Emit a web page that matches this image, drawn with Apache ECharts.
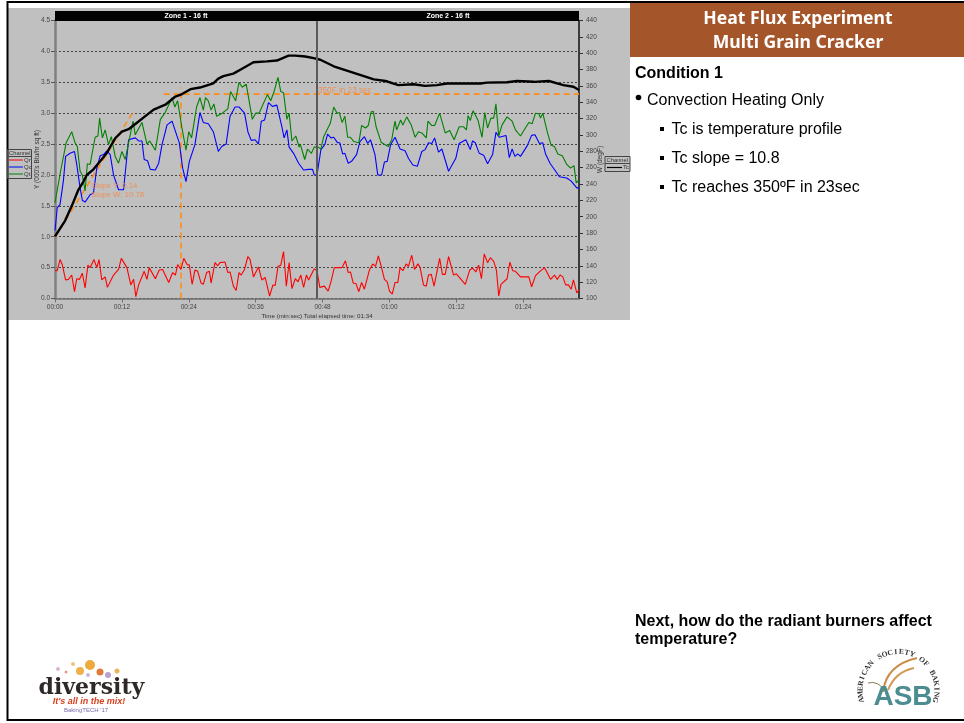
<!DOCTYPE html>
<html>
<head>
<meta charset="utf-8">
<style>
  html, body { margin: 0; padding: 0; background: #fff; }
  #chart { width: 964px; height: 723px; }
</style>
<script src="https://cdn.jsdelivr.net/npm/echarts@6/dist/echarts.min.js"></script>
</head>
<body>
<div id="chart"></div>
<script>
// [seconds, value]
const qrPoints = [[0,.45],[.4,.45],[.9,.63],[1.3,.55],[1.9,.3],[2.4,.31],[3,.38],[3.5,.11],[3.9,.32],[4.4,.31],[4.9,.41],[5.4,.17],[5.9,.54],[6.3,.5],[7,.63],[7.5,.5],[7.9,.63],[8.4,.3],[9,.35],[9.4,.18],[10.5,.38],[11.4,.47],[11.9,.65],[12.9,.5],[13.6,.22],[14.1,.31],[14.5,.03],[15,.22],[16,.44],[16.5,.31],[16.9,.5],[18,.32],[18.7,.46],[19.3,.47],[20.4,.26],[21.1,.42],[21.6,.38],[22,.55],[22.6,.47],[23.1,.65],[23.7,.55],[24.1,.54],[24.6,.23],[25.1,.46],[25.6,.44],[26.2,.25],[26.6,.23],[27.2,.42],[27.7,.44],[28,.25],[28.7,.58],[29.2,.53],[29.6,.58],[30.5,.59],[31,.42],[31.4,.43],[32,.2],[32.5,.13],[33,.42],[33.4,.38],[34,.47],[34.6,.68],[35,.63],[35.6,.35],[36.5,.51],[37.1,.3],[37.7,.34],[38.5,.04],[39.1,.22],[39.5,.21],[40,.52],[40.5,.54],[41,.76],[41.5,.2],[42,.58],[42.5,.16],[43.1,.32],[43.6,.27],[44.1,.38],[44.6,.18],[45.1,.38],[45.5,.3],[46.5,.48],[47,.45],[47.5,.18],[48.3,.2],[49,.12],[49.5,.27],[50.1,.5],[51.5,.5],[52.1,.61],[52.6,.42],[53,.43],[53.5,.25],[54,.24],[54.5,.11],[55,.26],[55.5,.15],[56.4,.46],[57,.56],[57.5,.52],[58,.69],[58.5,.53],[59.1,.31],[59.6,.27],[60,.12],[60.5,.07],[61,.26],[61.5,.26],[61.9,.5],[62.4,.45],[63,.56],[63.4,.52],[64,.7],[64.5,.47],[65.1,.56],[65.5,.5],[66.1,.22],[66.6,.2],[67,.38],[67.5,.39],[68,.2],[69,.65],[69.5,.39],[70,.39],[70.6,.68],[71.5,.38],[72,.4],[73.6,.23],[74.4,.46],[74.9,.49],[75.5,.43],[76,.54],[76.5,.32],[77,.72],[77.6,.58],[78.1,.66],[78.7,.6],[79.2,.45],[79.6,.04],[80,.23],[81.1,.32],[81.6,.59],[82.1,.45],[82.6,.44],[83.5,.35],[85,.35],[85.5,.19],[86.2,.37],[87,.44],[87.8,.5],[88.1,.5],[88.9,.31],[89.2,.31],[89.6,.38],[90.1,.31],[90.6,.38],[91.1,.35],[91.6,.22],[92.1,.22],[92.6,.15],[93,.3],[93.6,.09],[94,.14]];
const qcPoints = [[0,1.1],[.4,1.47],[.9,1.52],[1.5,1.9],[1.9,2.3],[2.7,2.35],[3.5,2.38],[3.9,2.17],[4.5,1.79],[4.9,1.59],[5.4,1.56],[6.3,1.68],[6.9,1.71],[7.5,2.11],[8.1,2.31],[8.7,2.33],[9.3,2.39],[9.9,2.33],[10.5,2],[11.4,1.76],[12.3,1.76],[13.2,2.57],[14.4,2.6],[15,2.55],[15.6,2.55],[16,2.25],[16.6,2.23],[17.1,2.09],[18,2.08],[18.6,2.19],[19.2,2.49],[20.1,2.81],[21,2.87],[21.7,2.68],[22.3,2.52],[22.9,2.11],[23.5,1.89],[24.1,2.22],[25.1,2.49],[26,3.01],[26.6,2.85],[27.5,2.83],[28.4,2.7],[29.3,2.38],[29.9,2.46],[30.7,2.5],[31.4,2.95],[32.3,3.1],[33,3.1],[34,3],[34.6,2.7],[35.2,2.56],[35.9,2.57],[36.5,2.5],[37,2.87],[37.6,2.89],[38.3,3.17],[39,3.11],[39.8,3.13],[40.7,2.78],[41.1,2.6],[41.6,2.73],[42,2.45],[42.8,2.35],[43.7,2.19],[44.6,2.08],[45.5,2.09],[46.2,2.09],[46.5,2],[47,2],[47.7,2.41],[48.4,2.49],[48.9,2.66],[49.5,2.6],[50,2.61],[50.7,2.52],[51.1,2.52],[51.6,2.34],[52,2.35],[52.6,2.19],[53.2,2.22],[54.1,2.33],[54.7,2.54],[55.5,2.62],[56.1,2.51],[56.6,2.57],[57.4,2.33],[57.9,2],[58.6,2],[59.1,2.21],[59.6,2.22],[60.2,2.49],[61,2.61],[61.9,2.42],[62.8,2.39],[63.4,2.27],[64.2,2.16],[65,2.14],[65.8,2.38],[66.4,2.41],[67,2.52],[67.6,2.51],[68.1,2.6],[68.8,2.37],[69.4,2.42],[70.6,2.06],[71.9,2.27],[72.5,2.51],[73.7,2.57],[74.5,2.41],[74.9,2.55],[75.4,2.52],[76.1,2.35],[76.9,2.32],[77.6,2.18],[78.5,2.33],[79.1,2.69],[79.7,2.61],[80.9,2.64],[81.5,2.28],[82,2.42],[82.5,2.3],[83,2.34],[83.5,2.3],[84.7,2.47],[85.5,2.64],[86.1,2.65],[86.9,2.51],[87.5,2.52],[88,2.34],[88.8,2.19],[90.5,1.97],[91.8,1.95],[92.6,1.9],[93.6,1.79],[94,1.79]];
const qtPoints = [[0,1.55],[1,2.06],[2,2.52],[3,2.7],[3.6,2.52],[4,2.46],[4.5,2.06],[4.9,2],[5.4,1.74],[5.8,2.18],[6.3,2.17],[7.2,2.61],[7.7,2.63],[8,2.92],[8.5,2.6],[9,2.73],[9.6,2.49],[10.1,2.62],[10.8,2.3],[11.4,2.19],[12,2.38],[12.6,2.25],[14,2.87],[14.4,2.65],[15.6,2.85],[16.5,2.5],[17,2.55],[18,2.4],[18.9,2.9],[19.7,3],[21,3.25],[21.5,3.1],[22,3.2],[22.7,2.8],[23.5,2.4],[24,2.7],[24.5,2.6],[25.4,3.1],[26,3.25],[26.6,3.05],[27,3.25],[27.5,3.2],[28,3.05],[28.5,3.15],[29,2.95],[30,3],[31,3.07],[31.5,3.35],[32.4,3.2],[33,3.5],[33.6,3.42],[34.3,3.47],[35.4,2.9],[36,3],[36.6,3],[38.1,3.3],[38.7,3.2],[39.3,3.35],[40,3.58],[40.5,3.35],[41,3.33],[41.6,2.9],[42,3],[42.5,2.55],[43.2,2.63],[43.8,2.45],[44,2.5],[44.8,2.25],[45.3,2.42],[46,2.35],[46.5,2.45],[47.2,2.45],[47.7,2.42],[48.2,2.62],[49.4,2.84],[50,3.1],[50.6,3],[51,3.01],[51.5,2.85],[52,2.95],[52.5,2.61],[53,2.61],[53.6,2.54],[54.5,2.52],[55,2.8],[55.7,2.76],[56.2,2.8],[56.7,3.02],[57.1,3.03],[57.6,2.78],[58.5,2.53],[59,2.5],[59.8,2.46],[60.4,2.57],[61,2.87],[61.3,2.73],[62,2.89],[62.4,2.81],[63.1,2.94],[63.9,2.81],[64.6,2.61],[65.2,2.7],[65.8,2.68],[66.6,2.6],[66.9,2.87],[67.6,2.8],[68.1,2.8],[69,3],[70,2.68],[70.8,2.72],[71.6,2.57],[72.5,2.78],[73.3,2.78],[73.8,2.73],[74.1,2.96],[74.5,2.88],[75,3.04],[75.9,2.88],[76.6,2.61],[77.1,3.01],[77.6,2.76],[78.2,2.92],[78.7,2.92],[79.1,3.15],[79.6,2.63],[80.2,2.81],[81.1,2.94],[82,2.87],[82.6,2.73],[83.5,2.63],[85,2.85],[85.6,2.83],[86.2,3],[86.8,2.99],[87.1,2.92],[87.5,3],[88.3,2.7],[89,2.48],[89.6,2.46],[90.2,2.34],[91,2.31],[91.8,2.17],[92.5,2.11],[93.1,2.15],[93.5,1.87],[94,1.92]];
const tcPoints = [[0,176],[1.8,195],[3,213],[4.2,233],[5.1,243],[5.7,251],[6.9,258],[8.1,268],[9.3,278],[10.8,296],[12,304],[13.2,307],[14.7,315],[16.2,323],[17.7,331],[19.8,337],[21.6,347],[22.8,350],[24.3,356],[26,358],[28.4,363],[29.3,369],[30.2,372],[32,375],[33.8,382],[35.6,389],[38,390],[39.8,391],[41.9,397],[43.1,397],[44.9,396],[46.4,394],[47.6,392],[50,384],[53.6,376],[57.2,368],[59.3,366],[61.6,361],[64.3,362],[66.4,360],[68.5,361],[70.3,363],[73.9,363],[76.3,363],[77.5,364],[81.1,364.5],[82.9,366],[85.9,365],[88.6,366],[91.2,361],[93,359],[94,355]];

const slopeLine = [[0,175],[14,328]];
const level350 = [[19.5,350],[94,350]];
const time350 = [[22.6,100],[22.6,358]];
const zoneBoundary = 47;

const zoneLabels = ['Zone 1 - 16 ft', 'Zone 2 - 16 ft'];
const bullets = ['Tc is temperature profile', 'Tc slope = 10.8', 'Tc reaches 350ºF in 23sec'];
const asbLetters = 'AMERICAN SOCIETY OF BAKING'.split('');

const SANS = 'Liberation Sans';

function mmss(v) {
  let m = Math.floor(v / 60), s = v % 60;
  return (m < 10 ? '0' : '') + m + ':' + (s < 10 ? '0' : '') + s;
}

function txt(x, y, text, size, extra) {
  return {
    type: 'text', x: x, y: y, z: 20, silent: true,
    style: Object.assign({
      text: text, fontFamily: SANS, fontSize: size, fill: '#000',
      verticalAlign: 'middle'
    }, extra || {})
  };
}
function box(x, y, w, h, fill, extra) {
  return { type: 'rect', z: (extra && extra.z) || 15, silent: true,
    shape: { x: x, y: y, width: w, height: h },
    style: Object.assign({ fill: fill }, (extra && extra.style) || {}) };
}
function seg(x1, y1, x2, y2, color, w) {
  return { type: 'line', z: 20, silent: true,
    shape: { x1: x1, y1: y1, x2: x2, y2: y2 },
    style: { stroke: color, lineWidth: w } };
}
function curve(x1, y1, cx, cy, x2, y2, color, w) {
  return { type: 'bezierCurve', z: 18, silent: true,
    shape: { x1: x1, y1: y1, cpx1: cx, cpy1: cy, x2: x2, y2: y2 },
    style: { stroke: color, lineWidth: w, fill: 'none' } };
}
function dot(x, y, r, color) {
  return { type: 'circle', z: 18, silent: true, shape: { cx: x, cy: y, r: r }, style: { fill: color } };
}

let graphics = [
  // slide frame and the grey picture panel
  box(8, 8, 622, 312, '#c0c0c0', { z: -1 }),
  box(7, 1, 957, 2, '#000'),
  box(6.5, 1, 2, 720, '#000'),
  box(7, 719, 957, 2, '#000'),
  box(630, 3, 334, 54, '#a5552a'),
  // zone header
  box(55, 11, 524, 10, '#000'),
  txt(186, 16.3, zoneLabels[0], 7, { fill: '#fff', fontWeight: 'bold', align: 'center' }),
  txt(448, 16.3, zoneLabels[1], 7, { fill: '#fff', fontWeight: 'bold', align: 'center' }),
  // notes on the plot
  txt(318, 90.5, '350F in 23 sec', 8.2, { fill: '#ee8f55' }),
  txt(91, 186, 'Slope Y: 0.14', 7.8, { fill: '#ee8f55' }),
  txt(91, 195, 'Slope W: 10.78', 7.8, { fill: '#ee8f55' }),
  // left channel box
  box(7.5, 149.5, 24, 29, 'none', { style: { stroke: '#444', lineWidth: 1 } }),
  seg(7.5, 156.5, 31.5, 156.5, '#444', 1),
  txt(9, 153, 'Channel', 5.8, { fill: '#333' }),
  seg(9, 160, 23, 160, '#ff0000', 1),
  txt(24, 160, 'Qr', 6, { fill: '#333' }),
  seg(9, 167, 23, 167, '#0000ff', 1),
  txt(24, 167, 'Qc', 6, { fill: '#333' }),
  seg(9, 174, 23, 174, '#008000', 1),
  txt(24, 174, 'Qt', 6, { fill: '#333' }),
  // right channel box
  box(605, 156.5, 25, 15, 'none', { style: { stroke: '#444', lineWidth: 1 } }),
  seg(605, 163.5, 630, 163.5, '#444', 1),
  txt(606.5, 160, 'Channel', 5.8, { fill: '#333' }),
  seg(607, 167.5, 622, 167.5, '#000', 1.2),
  txt(623, 167.5, 'Tc', 6, { fill: '#333' }),
  // right hand text
  txt(798, 18.5, 'Heat Flux Experiment', 17.6, { fill: '#fff', fontWeight: 'bold', align: 'center', fontFamily: 'Noto Sans' }),
  txt(798, 42.5, 'Multi Grain Cracker', 17.6, { fill: '#fff', fontWeight: 'bold', align: 'center', fontFamily: 'Noto Sans' }),
  txt(635, 74, 'Condition 1', 16, { fontWeight: 'bold' }),
  dot(638.5, 97.5, 2.8, '#000'),
  txt(647, 101, 'Convection Heating Only', 16),
  txt(635, 621.5, 'Next, how do the radiant burners affect', 16, { fontWeight: 'bold' }),
  txt(635, 639.5, 'temperature?', 16, { fontWeight: 'bold' }),
  // diversity logo
  txt(91.5, 688, 'diversity', 22, { fontFamily: 'DejaVu Serif', fontWeight: 'bold', fill: '#2e2826', align: 'center' }),
  txt(89, 702, "It's all in the mix!", 9, { fill: '#d8431e', fontStyle: 'italic', fontWeight: 'bold', align: 'center' }),
  txt(86, 710.5, "BakingTECH '17", 6, { fill: '#7a6aa8', align: 'center' }),
  dot(58, 669, 2, '#d9b6d6'), dot(117, 671, 2.5, '#e9b55a'), dot(108, 675, 3, '#b9a2d0'),
  dot(80, 671, 4, '#f0b04a'), dot(90, 665, 5, '#eeaa3a'), dot(100, 672, 3.5, '#e07a3a'),
  dot(73, 664, 2, '#f3c277'), dot(66, 672, 1.5, '#e89a8a'), dot(88, 675, 2, '#c9b6dd'),
  // ASB logo
  curve(883, 692, 886, 665, 917, 658, '#c98a45', 2),
  curve(888, 690, 895, 672, 914, 668, '#d19a55', 2),
  curve(868, 683, 878, 680, 886, 692, '#8a7a5a', 1),
  txt(903, 697.5, 'ASB', 28, { fill: '#4b8d90', fontWeight: 'bold', align: 'center' })
];

// small square bullets
bullets.forEach(function (b, i) {
  graphics.push(box(660, 127 + i * 29, 4, 4, '#000'));
  graphics.push(txt(671.5, 130 + i * 29, b, 16));
});

// letters round the ASB arc
asbLetters.forEach(function (ch, i) {
  let a = (-105 + i * 210 / (asbLetters.length - 1)) * Math.PI / 180;
  graphics.push({
    type: 'text', z: 20, silent: true,
    x: 898.5 + 38 * Math.sin(a), y: 690 - 38 * Math.cos(a), rotation: -a,
    style: { text: ch, fontFamily: 'Liberation Serif', fontSize: 7.5, fontWeight: 'bold', fill: '#333', align: 'center', verticalAlign: 'middle' }
  });
});

const axisFont = { fontFamily: SANS, fontSize: 6.5, color: '#444' };

let option = {
  backgroundColor: '#fff',
  animation: false,
  grid: { left: 55, right: 385, top: 20.5, bottom: 424.5, containLabel: false },
  xAxis: {
    type: 'value', min: 0, max: 94, interval: 12,
    name: 'Time (min:sec) Total elapsed time: 01:34',
    nameLocation: 'middle', nameGap: 15, nameMoveOverlap: false,
    nameTextStyle: { fontFamily: SANS, fontSize: 6.2, color: '#333' },
    axisLine: { onZero: false, lineStyle: { color: '#707070', width: 1.5 } },
    axisTick: { length: 4, lineStyle: { color: '#707070' } },
    axisLabel: Object.assign({ margin: 5, showMaxLabel: false, formatter: function (v) { return v % 12 === 0 ? mmss(v) : ''; } }, axisFont),
    splitLine: { show: false }
  },
  yAxis: [{
    type: 'value', min: 0, max: 4.5, interval: 0.5, position: 'left',
    name: "Y (000's Btu/hr sq ft)", nameLocation: 'middle', nameGap: 14, nameMoveOverlap: false,
    nameTextStyle: { fontFamily: SANS, fontSize: 6.5, color: '#333' },
    axisLine: { show: true, onZero: false, lineStyle: { color: '#808080', width: 2.5 } },
    axisTick: { show: true, length: 4, lineStyle: { color: '#555' } },
    axisLabel: Object.assign({ margin: 5, formatter: function (v) { return v.toFixed(1); } }, axisFont),
    splitLine: { show: true, lineStyle: { color: '#444', width: 1, type: [2, 2] } }
  }, {
    type: 'value', min: 100, max: 440, interval: 20, position: 'right',
    name: 'W (degF)', nameLocation: 'middle', nameGap: 18, nameMoveOverlap: false,
    nameTextStyle: { fontFamily: SANS, fontSize: 6.5, color: '#333' },
    axisLine: { show: true, onZero: false, lineStyle: { color: '#111', width: 1.5 } },
    axisTick: { show: true, length: 4, lineStyle: { color: '#333' } },
    axisLabel: Object.assign({ margin: 7 }, axisFont),
    splitLine: { show: false }
  }],
  graphic: graphics,
  series: [
    { name: 'Tc slope', type: 'line', yAxisIndex: 1, data: slopeLine, showSymbol: false, z: 2,
      lineStyle: { color: '#ff8c1a', width: 1.6, type: [6, 4] } },
    { name: '350F', type: 'line', yAxisIndex: 1, data: level350, showSymbol: false, z: 2,
      lineStyle: { color: '#ff8c1a', width: 1.6, type: [6, 4] } },
    { name: '23 sec', type: 'line', yAxisIndex: 1, data: time350, showSymbol: false, z: 2,
      lineStyle: { color: '#ff8c1a', width: 1.6, type: [6, 4] } },
    { name: 'Qr', type: 'line', data: qrPoints, showSymbol: false, z: 3, lineStyle: { color: '#ff0000', width: 1.1 },
      markLine: { silent: true, symbol: 'none', label: { show: false },
        lineStyle: { color: '#5a5a5a', width: 2, type: 'solid' }, data: [{ xAxis: zoneBoundary }] } },
    { name: 'Qc', type: 'line', data: qcPoints, showSymbol: false, z: 3, lineStyle: { color: '#0000ff', width: 1.1 } },
    { name: 'Qt', type: 'line', data: qtPoints, showSymbol: false, z: 3, lineStyle: { color: '#008000', width: 1.1 } },
    { name: 'Tc', type: 'line', yAxisIndex: 1, data: tcPoints, showSymbol: false, z: 4, lineStyle: { color: '#000', width: 2.4 } }
  ]
};

let myChart = echarts.init(document.getElementById('chart'), null, { renderer: 'canvas' });
myChart.setOption(option);
</script>
</body>
</html>
